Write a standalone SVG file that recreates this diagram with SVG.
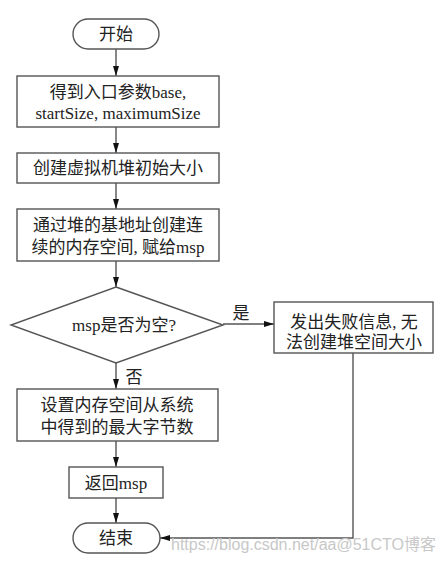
<svg xmlns="http://www.w3.org/2000/svg" width="442" height="561" viewBox="0 0 442 561">
<defs>
<marker id="ah" markerWidth="10" markerHeight="8" refX="10" refY="4" orient="auto" markerUnits="userSpaceOnUse">
<path d="M0,1 L10,4 L0,7 Z" fill="#111"/>
</marker>
<style>
.n{fill:#fff;stroke:#555;stroke-width:1.4}
.t{font-family:"Liberation Serif","Noto Sans CJK SC",serif;font-size:17px;fill:#222;text-anchor:middle}
.c{fill:none;stroke:#555;stroke-width:1.4}
.w{font-family:"Liberation Sans","Noto Sans CJK SC",sans-serif;font-size:16px;fill:#c8c8c8}
</style>
</defs>
<rect width="442" height="561" fill="#fff"/>
<g id="connectors">
<line class="c" x1="116" y1="49" x2="116" y2="76" marker-end="url(#ah)"/>
<line class="c" x1="116" y1="127" x2="116" y2="153" marker-end="url(#ah)"/>
<line class="c" x1="116" y1="183" x2="116" y2="209" marker-end="url(#ah)"/>
<line class="c" x1="116" y1="261" x2="116" y2="287" marker-end="url(#ah)"/>
<line class="c" x1="223" y1="324" x2="274" y2="324" marker-end="url(#ah)"/>
<line class="c" x1="116" y1="363" x2="116" y2="389" marker-end="url(#ah)"/>
<line class="c" x1="116" y1="441" x2="116" y2="467" marker-end="url(#ah)"/>
<line class="c" x1="116" y1="498" x2="116" y2="523" marker-end="url(#ah)"/>
<polyline class="c" points="353,353 353,538 160,538" marker-end="url(#ah)"/>
<text class="t" x="241" y="319">是</text>
<text class="t" x="134" y="383">否</text>
</g>
<g id="start">
<rect class="n" x="73" y="19" width="86" height="30" rx="15"/>
<text class="t" x="116" y="40">开始</text>
</g>
<g id="params">
<rect class="n" x="17" y="76" width="202" height="51"/>
<text class="t" x="118" y="98">得到入口参数base,</text>
<text class="t" x="118" y="119">startSize, maximumSize</text>
</g>
<g id="create">
<rect class="n" x="17" y="153" width="202" height="30"/>
<text class="t" x="118" y="174">创建虚拟机堆初始大小</text>
</g>
<g id="alloc">
<rect class="n" x="17" y="209" width="202" height="52"/>
<text class="t" x="118" y="231">通过堆的基地址创建连</text>
<text class="t" x="118" y="253">续的内存空间, 赋给msp</text>
</g>
<g id="decision">
<polygon class="n" points="116,287 223,325 116,363 11,325"/>
<text class="t" x="124" y="331">msp是否为空?</text>
</g>
<g id="fail">
<rect class="n" x="274" y="302" width="159" height="51"/>
<text class="t" x="354" y="328">发出失败信息, 无</text>
<text class="t" x="354" y="348">法创建堆空间大小</text>
</g>
<g id="setmax">
<rect class="n" x="17" y="389" width="201" height="52"/>
<text class="t" x="117" y="411">设置内存空间从系统</text>
<text class="t" x="117" y="433">中得到的最大字节数</text>
</g>
<g id="ret">
<rect class="n" x="69" y="467" width="94" height="31"/>
<text class="t" x="116" y="489">返回msp</text>
</g>
<g id="end">
<rect class="n" x="73" y="523" width="87" height="30" rx="15"/>
<text class="t" x="116" y="544">结束</text>
</g>
<text class="w" x="171" y="550">https://blog.csdn.net/aa@51CTO博客</text>
</svg>
